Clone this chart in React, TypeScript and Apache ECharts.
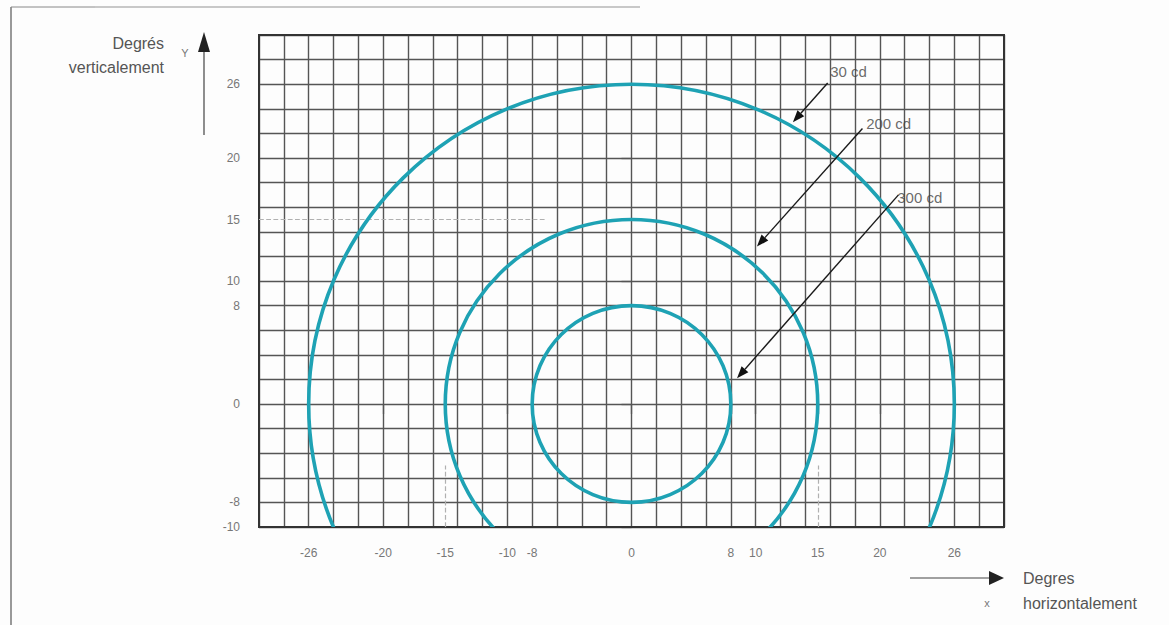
import React, { useEffect, useRef } from "react";
import * as echarts from "echarts";

// Radii (in degrees) of the iso-candela contours
const contourNames = ["30 cd", "200 cd", "300 cd"];
const contourRadii = [26, 15, 8];

// Tick labels shown on the axes
const xTickValues = [-26, -20, -15, -10, -8, 0, 8, 10, 15, 20, 26];
const yTickValues = [-10, -8, 0, 8, 10, 15, 20, 26];

// Annotation arrows: start (label side) and tip, in degrees
const arrowStarts = [
  [15.8, 26.1],
  [18.6, 22.4],
  [21.5, 17.0],
];
const arrowTips = [
  [13.0, 22.9],
  [10.1, 12.8],
  [8.5, 2.1],
];
const labelAnchors = [
  [16.0, 27.0],
  [18.9, 22.8],
  [21.4, 16.8],
];

const FONT = "'Liberation Sans', Arial, sans-serif";

export default function App() {
  const ref = useRef<HTMLDivElement>(null);

  useEffect(() => {
    if (!ref.current) return;
    const chart = echarts.init(ref.current, undefined, { renderer: "svg" });

    const gridAxisX = {
      type: "value",
      gridIndex: 0,
      min: -30,
      max: 30,
      interval: 2,
      axisLine: { show: false },
      axisTick: { show: false },
      axisLabel: { show: false },
      splitLine: { show: true, lineStyle: { color: "#555", width: 1.4 } },
    };
    const labelAxisX = {
      type: "value",
      gridIndex: 0,
      min: -30,
      max: 30,
      position: "bottom",
      axisLine: { show: false },
      splitLine: { show: false },
      axisTick: {
        show: true,
        length: 10,
        customValues: xTickValues,
        lineStyle: { color: "#555", width: 1.3 },
      },
      axisLabel: {
        show: true,
        customValues: xTickValues,
        color: "#777",
        fontSize: 12,
        fontFamily: FONT,
        margin: 20,
      },
    };
    const gridAxisY = {
      type: "value",
      gridIndex: 0,
      min: -10,
      max: 30,
      interval: 2,
      axisLine: { show: false },
      axisTick: { show: false },
      axisLabel: { show: false },
      splitLine: { show: true, lineStyle: { color: "#555", width: 1.4 } },
    };
    const labelAxisY = {
      type: "value",
      gridIndex: 0,
      min: -10,
      max: 30,
      position: "left",
      axisLine: { show: false },
      splitLine: { show: false },
      axisTick: {
        show: true,
        length: 10,
        customValues: yTickValues,
        lineStyle: { color: "#555", width: 1.3 },
      },
      axisLabel: {
        show: true,
        customValues: yTickValues,
        color: "#777",
        fontSize: 12,
        fontFamily: FONT,
        margin: 19,
      },
    };

    const option: any = {
      animation: false,
      backgroundColor: "#fdfdfd",
      grid: {
        left: 259,
        top: 35,
        width: 745,
        height: 492,
        show: true,
        borderColor: "#333",
        borderWidth: 2,
        backgroundColor: "transparent",
        z: 3,
      },
      xAxis: [gridAxisX, labelAxisX],
      yAxis: [gridAxisY, labelAxisY],
      series: [
        {
          type: "custom",
          name: "contours",
          xAxisIndex: 0,
          yAxisIndex: 0,
          clip: true,
          z: 5,
          encode: { x: 0, y: 0 },
          data: contourRadii.map((r, i) => ({ name: contourNames[i], value: [r] })),
          renderItem: (params: any, api: any) => {
            const r = api.value(0);
            const c = api.coord([0, 0]);
            const s = api.size([r, r]);
            return {
              type: "ellipse",
              shape: { cx: c[0], cy: c[1], rx: s[0], ry: s[1] },
              style: { fill: "none", stroke: "#1ea2b4", lineWidth: 3.6 },
            };
          },
        },
        {
          type: "custom",
          name: "arrows",
          xAxisIndex: 0,
          yAxisIndex: 0,
          z: 6,
          encode: { x: [0, 2], y: [1, 3] },
          data: arrowStarts.map((s, i) => [s[0], s[1], arrowTips[i][0], arrowTips[i][1]]),
          renderItem: (params: any, api: any) => {
            const p0 = api.coord([api.value(0), api.value(1)]);
            const p1 = api.coord([api.value(2), api.value(3)]);
            const dx = p1[0] - p0[0];
            const dy = p1[1] - p0[1];
            const len = Math.sqrt(dx * dx + dy * dy);
            const ux = dx / len;
            const uy = dy / len;
            const headLen = 12;
            const headW = 4.5;
            const bx = p1[0] - ux * headLen;
            const by = p1[1] - uy * headLen;
            return {
              type: "group",
              children: [
                {
                  type: "line",
                  shape: { x1: p0[0], y1: p0[1], x2: bx, y2: by },
                  style: { stroke: "#1a1a1a", lineWidth: 1.4 },
                },
                {
                  type: "polygon",
                  shape: {
                    points: [
                      [p1[0], p1[1]],
                      [bx - uy * headW, by + ux * headW],
                      [bx + uy * headW, by - ux * headW],
                    ],
                  },
                  style: { fill: "#111" },
                },
              ],
            };
          },
        },
        {
          type: "scatter",
          name: "labels",
          xAxisIndex: 0,
          yAxisIndex: 0,
          symbolSize: 0,
          z: 7,
          data: labelAnchors.map((p, i) => ({ name: contourNames[i], value: p })),
          label: {
            show: true,
            position: "right",
            distance: 0,
            formatter: (p: any) => p.name,
            color: "#444",
            fontSize: 15,
            fontFamily: FONT,
          },
        },
        {
          type: "line",
          name: "guides",
          xAxisIndex: 0,
          yAxisIndex: 0,
          data: [],
          markLine: {
            silent: true,
            symbol: ["none", "none"],
            label: { show: false },
            lineStyle: { color: "#b0b0b0", width: 1.2, type: "dashed" },
            data: [
              [{ coord: [-30, 15] }, { coord: [-7, 15] }],
              [{ coord: [-15, -10] }, { coord: [-15, -5] }],
              [{ coord: [15, -10] }, { coord: [15, -5] }],
            ],
          },
        },
      ],
      graphic: [
        // page frame
        { type: "line", shape: { x1: 11, y1: 7, x2: 11, y2: 625 }, style: { stroke: "#777", lineWidth: 1.5 } },
        { type: "line", shape: { x1: 11, y1: 7, x2: 95, y2: 7 }, style: { stroke: "#888", lineWidth: 1 } },
        { type: "line", shape: { x1: 95, y1: 7, x2: 640, y2: 7 }, style: { stroke: "#c8c8c8", lineWidth: 2 } },
        // Y axis caption and arrow
        {
          type: "text",
          x: 164,
          y: 43,
          style: { text: "Degrés", textAlign: "right", textVerticalAlign: "middle", fill: "#555", font: `16px ${FONT}` },
        },
        {
          type: "text",
          x: 164,
          y: 67,
          style: { text: "verticalement", textAlign: "right", textVerticalAlign: "middle", fill: "#555", font: `16px ${FONT}` },
        },
        {
          type: "text",
          x: 185,
          y: 53,
          style: { text: "Y", textAlign: "center", textVerticalAlign: "middle", fill: "#777", font: `11px ${FONT}` },
        },
        { type: "line", shape: { x1: 204, y1: 135, x2: 204, y2: 48 }, style: { stroke: "#444", lineWidth: 1.2 } },
        { type: "polygon", shape: { points: [[204, 32], [198, 52], [210, 52]] }, style: { fill: "#222" } },
        // X axis caption and arrow
        { type: "line", shape: { x1: 910, y1: 578, x2: 992, y2: 578 }, style: { stroke: "#444", lineWidth: 1.2 } },
        { type: "polygon", shape: { points: [[1004, 578], [989, 571], [989, 585]] }, style: { fill: "#222" } },
        {
          type: "text",
          x: 1023,
          y: 578,
          style: { text: "Degres", textAlign: "left", textVerticalAlign: "middle", fill: "#555", font: `16px ${FONT}` },
        },
        {
          type: "text",
          x: 1023,
          y: 603,
          style: { text: "horizontalement", textAlign: "left", textVerticalAlign: "middle", fill: "#555", font: `16px ${FONT}` },
        },
        {
          type: "text",
          x: 987,
          y: 603,
          style: { text: "x", textAlign: "center", textVerticalAlign: "middle", fill: "#777", font: `11px ${FONT}` },
        },
      ],
    };

    chart.setOption(option);
    return () => chart.dispose();
  }, []);

  return (
    <div
      ref={ref}
      style={{ position: "fixed", left: 0, top: 0, width: 1169, height: 625 }}
    />
  );
}
